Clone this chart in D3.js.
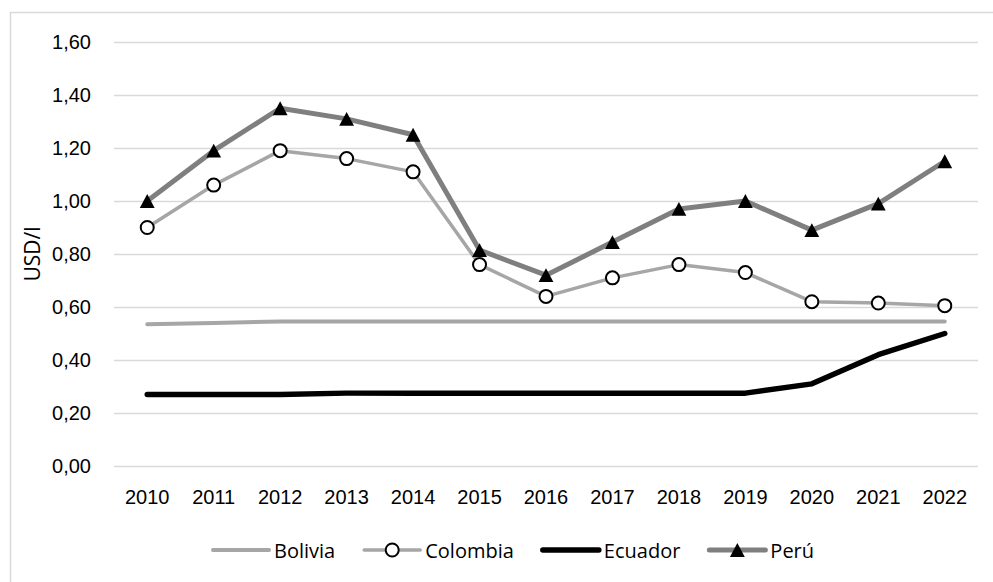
<!DOCTYPE html>
<html lang="es">
<head>
<meta charset="UTF-8">
<title>USD/l</title>
<script src="https://cdn.jsdelivr.net/npm/d3@7"></script>
<style>
  body { margin: 0; background: #fff; }
  svg { display: block; font-family: "Open Sans", sans-serif; }
  .grid line { stroke: #d9d9d9; stroke-width: 1.5px; }
  .tick text { font-size: 20px; fill: #000; }
</style>
</head>
<body>
<script>
const years = [2010, 2011, 2012, 2013, 2014, 2015, 2016, 2017, 2018, 2019, 2020, 2021, 2022];
const bolivia = [0.535, 0.54, 0.545, 0.545, 0.545, 0.545, 0.545, 0.545, 0.545, 0.545, 0.545, 0.545, 0.545];
const colombia = [0.90, 1.06, 1.19, 1.16, 1.11, 0.76, 0.64, 0.71, 0.76, 0.73, 0.62, 0.615, 0.605];
const ecuador = [0.27, 0.27, 0.27, 0.275, 0.275, 0.275, 0.275, 0.275, 0.275, 0.275, 0.31, 0.42, 0.50];
const peru = [1.00, 1.19, 1.35, 1.31, 1.25, 0.815, 0.72, 0.845, 0.97, 1.00, 0.89, 0.99, 1.15];
const yTicks = [0, 0.2, 0.4, 0.6, 0.8, 1.0, 1.2, 1.4, 1.6];

const series = [
  { name: "Bolivia", values: bolivia, color: "#a6a6a6", width: 4, marker: null },
  { name: "Colombia", values: colombia, color: "#a6a6a6", width: 3.5, marker: "circle" },
  { name: "Ecuador", values: ecuador, color: "#000000", width: 5.5, marker: null },
  { name: "Perú", values: peru, color: "#7f7f7f", width: 5, marker: "triangle" }
];

const W = 993, H = 582;
const margin = { top: 42, right: 15, bottom: 116, left: 114 };

const svg = d3.select("body").append("svg")
  .attr("width", W)
  .attr("height", H);

// chart frame
svg.append("rect")
  .attr("x", 10.5).attr("y", 12.5)
  .attr("width", W + 20).attr("height", H + 20)
  .attr("fill", "none")
  .attr("stroke", "#d9d9d9")
  .attr("stroke-width", 1.5);

const x = d3.scaleBand()
  .domain(years)
  .range([margin.left, W - margin.right])
  .padding(0);

const y = d3.scaleLinear()
  .domain([0, 1.6])
  .range([H - margin.bottom, margin.top]);

const fmt = d3.formatLocale({ decimal: ",", thousands: ".", grouping: [3], currency: ["", ""] }).format(".2f");

// gridlines
svg.append("g")
  .attr("class", "grid")
  .attr("transform", `translate(${margin.left},0)`)
  .call(d3.axisLeft(y).tickValues(yTicks).tickSize(-(W - margin.right - margin.left)).tickFormat(""))
  .call(g => g.select(".domain").remove());

// y axis labels
svg.append("g")
  .attr("transform", `translate(${margin.left - 23},0)`)
  .call(d3.axisLeft(y).tickValues(yTicks).tickSize(0).tickPadding(0).tickFormat(fmt))
  .call(g => g.select(".domain").remove());

// x axis labels
svg.append("g")
  .attr("transform", `translate(0,${H - margin.bottom})`)
  .call(d3.axisBottom(x).tickSize(0).tickPadding(23))
  .call(g => g.select(".domain").remove())
  .selectAll("text").attr("dy", "0.32em").attr("y", 32);

// y axis title
svg.append("text")
  .attr("transform", `translate(32,${(y(0) + y(1.6)) / 2}) rotate(-90)`)
  .attr("text-anchor", "middle")
  .attr("dominant-baseline", "central")
  .style("font-size", "21px")
  .text("USD/l");

const cx = i => x(years[i]) + x.bandwidth() / 2;

const line = d3.line()
  .x((d, i) => cx(i))
  .y(d => y(d));

// triangle centred on its bounding box, like the spreadsheet marker
const boxTriangle = {
  draw(ctx, size) {
    const w = Math.sqrt(size * 2.2), h = w * 0.93;
    ctx.moveTo(0, -h / 2);
    ctx.lineTo(w / 2, h / 2);
    ctx.lineTo(-w / 2, h / 2);
    ctx.closePath();
  }
};

series.forEach(s => {
  svg.append("path")
    .datum(s.values)
    .attr("d", line)
    .attr("fill", "none")
    .attr("stroke", s.color)
    .attr("stroke-width", s.width)
    .attr("stroke-linejoin", "round")
    .attr("stroke-linecap", "round");
});

series.forEach(s => {
  if (s.marker === "circle") {
    svg.selectAll(null)
      .data(s.values)
      .join("circle")
      .attr("cx", (d, i) => cx(i))
      .attr("cy", d => y(d))
      .attr("r", 6.5)
      .attr("fill", "#fff")
      .attr("stroke", "#000")
      .attr("stroke-width", 2);
  } else if (s.marker === "triangle") {
    svg.selectAll(null)
      .data(s.values)
      .join("path")
      .attr("transform", (d, i) => `translate(${cx(i)},${y(d)})`)
      .attr("d", d3.symbol(boxTriangle, 100))
      .attr("fill", "#000");
  }
});

// legend
const legend = svg.append("g").attr("transform", "translate(213,550)");
let lx = 0;
series.forEach(s => {
  const g = legend.append("g").attr("transform", `translate(${lx},0)`);
  g.append("line")
    .attr("x1", 0).attr("x2", 56)
    .attr("stroke", s.color)
    .attr("stroke-width", s.width)
    .attr("stroke-linecap", "round");
  if (s.marker === "circle") {
    g.append("circle").attr("cx", 28).attr("r", 6.5)
      .attr("fill", "#fff").attr("stroke", "#000").attr("stroke-width", 2);
  } else if (s.marker === "triangle") {
    g.append("path").attr("transform", "translate(28,0)")
      .attr("d", d3.symbol(boxTriangle, 100)).attr("fill", "#000");
  }
  const t = g.append("text")
    .attr("x", 61)
    .attr("dominant-baseline", "central")
    .style("font-size", "20px")
    .text(s.name);
  lx += 61 + t.node().getComputedTextLength() + 29;
});
</script>
</body>
</html>
